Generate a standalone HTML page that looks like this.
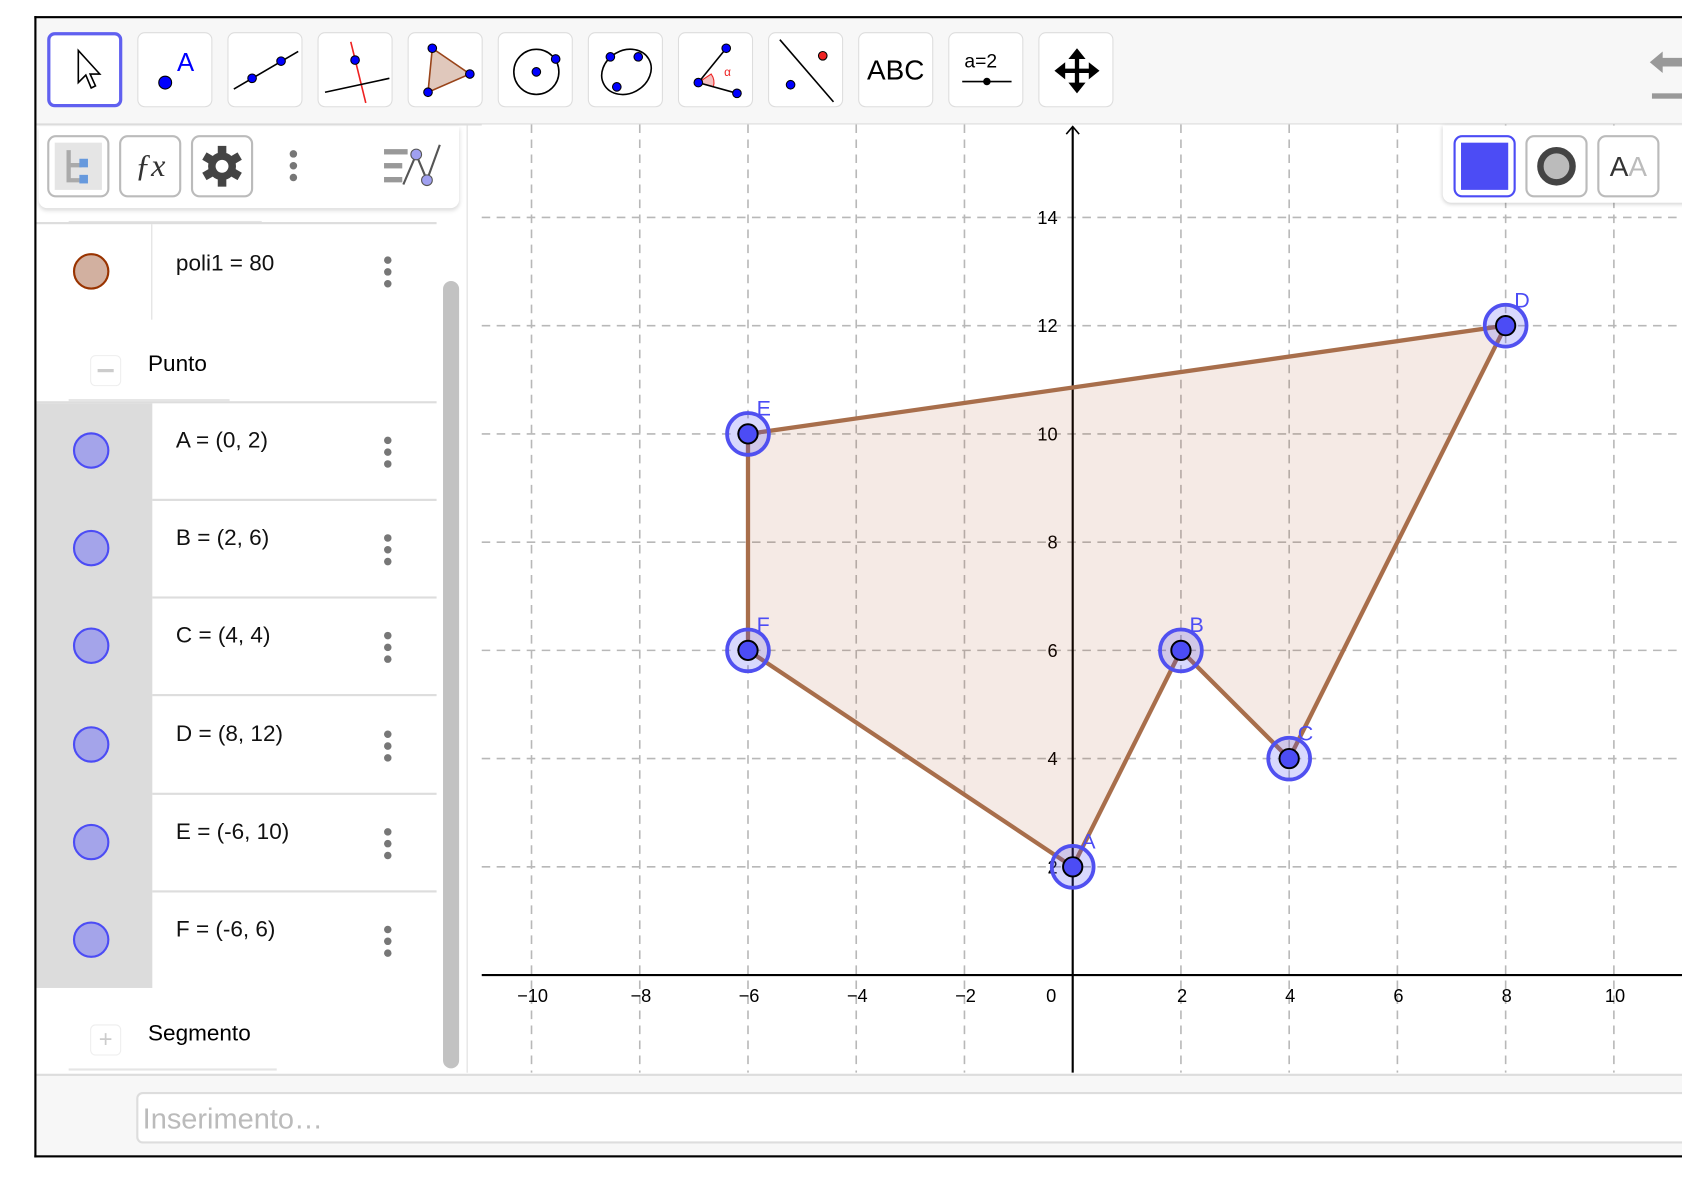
<!DOCTYPE html>
<html><head><meta charset="utf-8">
<style>
html,body{margin:0;padding:0;background:#fff;overflow:hidden;width:1682px;height:1180px;}
#root{position:absolute;left:0;top:0;width:1568px;height:1100px;transform:scale(1.0727);transform-origin:0 0;font-family:"Liberation Sans",sans-serif;}
.abs{position:absolute;}
.tb{position:absolute;top:30px;width:70px;height:70px;border:1px solid #ddd;border-radius:7px;background:#fff;box-sizing:border-box;}
.hb{position:absolute;top:126px;width:58px;height:58px;border:2px solid #bbb;border-radius:8px;background:#fff;box-sizing:border-box;}
.row-txt{position:absolute;left:164px;font-size:21px;color:#111;}
.dots{position:absolute;left:358px;width:7px;}
.dots i{display:block;width:7px;height:7px;border-radius:50%;background:#777;margin-bottom:4px;}
.sep{position:absolute;left:142px;width:265px;height:2px;background:#ddd;}
.circ{position:absolute;left:68px;width:34px;height:34px;border-radius:50%;box-sizing:border-box;}
</style></head><body>
<div id="root">
  <!-- toolbar -->
  <div class="abs" style="left:34px;top:17px;width:1534px;height:98px;background:#f7f7f7;border-bottom:2px solid #ddd;"></div>
  <div class="tb" style="left:44px;border:3px solid #6060f0;"><svg width="64" height="64"><path d="M26 14 L26 44 L33 37 L38 49 L42 47 L37 36 L46 36 Z" fill="#fff" stroke="#000" stroke-width="1.5"/></svg></div>
  <div class="tb" style="left:128px;"><svg width="70" height="70"><circle cx="25" cy="46" r="6" fill="#00f" stroke="#000"/><text x="36" y="35" font-size="24" fill="#00f" font-family="Liberation Sans">A</text></svg></div>
  <div class="tb" style="left:212px;"><svg width="70" height="70"><line x1="5" y1="52" x2="65" y2="17" stroke="#000" stroke-width="1.5"/><circle cx="22" cy="42" r="4" fill="#00f" stroke="#000"/><circle cx="49" cy="26" r="4" fill="#00f" stroke="#000"/></svg></div>
  <div class="tb" style="left:296px;"><svg width="70" height="70"><line x1="30" y1="8" x2="44" y2="65" stroke="#e22" stroke-width="1.5"/><line x1="6" y1="55" x2="66" y2="42" stroke="#000" stroke-width="1.5"/><circle cx="34" cy="25" r="4" fill="#00f" stroke="#000"/></svg></div>
  <div class="tb" style="left:380px;"><svg width="70" height="70"><polygon points="22,14 57,38 18,55" fill="#e0c8bc" stroke="#99441a" stroke-width="1.5"/><circle cx="22" cy="14" r="4" fill="#00f" stroke="#000"/><circle cx="57" cy="38" r="4" fill="#00f" stroke="#000"/><circle cx="18" cy="55" r="4" fill="#00f" stroke="#000"/></svg></div>
  <div class="tb" style="left:464px;"><svg width="70" height="70"><circle cx="35" cy="36" r="21" fill="none" stroke="#000" stroke-width="1.5"/><circle cx="35" cy="36" r="4" fill="#00f" stroke="#000"/><circle cx="53" cy="24" r="4" fill="#00f" stroke="#000"/></svg></div>
  <div class="tb" style="left:548px;"><svg width="70" height="70"><ellipse cx="35" cy="36" rx="24" ry="20" transform="rotate(-30 35 36)" fill="none" stroke="#000" stroke-width="1.5"/><circle cx="20" cy="22" r="4" fill="#00f" stroke="#000"/><circle cx="46" cy="22" r="4" fill="#00f" stroke="#000"/><circle cx="26" cy="50" r="4" fill="#00f" stroke="#000"/></svg></div>
  <div class="tb" style="left:632px;"><svg width="70" height="70"><path d="M18 46 L30 38 A14 14 0 0 1 32 50 Z" fill="#f3c0c0" stroke="#e22"/><line x1="18" y1="46" x2="44" y2="14" stroke="#000" stroke-width="1.5"/><line x1="18" y1="46" x2="54" y2="56" stroke="#000" stroke-width="1.5"/><circle cx="18" cy="46" r="4" fill="#00f" stroke="#000"/><circle cx="44" cy="14" r="4" fill="#00f" stroke="#000"/><circle cx="54" cy="56" r="4" fill="#00f" stroke="#000"/><text x="42" y="40" font-size="11" fill="#e22">α</text></svg></div>
  <div class="tb" style="left:716px;"><svg width="70" height="70"><line x1="10" y1="6" x2="60" y2="64" stroke="#000" stroke-width="1.5"/><circle cx="20" cy="48" r="4" fill="#00f" stroke="#000"/><circle cx="50" cy="21" r="4" fill="#e22" stroke="#000"/></svg></div>
  <div class="tb" style="left:800px;"><div style="text-align:center;line-height:68px;font-size:26px;">ABC</div></div>
  <div class="tb" style="left:884px;"><svg width="70" height="70"><text x="14" y="32" font-size="18" font-family="Liberation Sans">a=2</text><line x1="12" y1="45" x2="58" y2="45" stroke="#000" stroke-width="1.5"/><circle cx="35" cy="45" r="3.5" fill="#000"/></svg></div>
  <div class="tb" style="left:968px;"><svg width="70" height="70"><path d="M35 14 L43 24 L37 24 L37 33 L46 33 L46 27 L56 35 L46 43 L46 37 L37 37 L37 46 L43 46 L35 56 L27 46 L33 46 L33 37 L24 37 L24 43 L14 35 L24 27 L24 33 L33 33 L33 24 L27 24 Z" fill="#000"/></svg></div>
  <svg class="abs" style="left:1530px;top:40px;" width="38" height="55"><path d="M8 18 L20 8 L20 14 L38 14 L38 22 L20 22 L20 28 Z" fill="#999"/><rect x="10" y="47" width="28" height="5" fill="#999"/></svg>

  <!-- algebra panel -->
  <div class="abs" style="left:34px;top:117px;width:401px;height:883px;background:#fff;border-right:1px solid #ddd;"></div>
  <div class="abs" style="left:36px;top:118px;width:392px;height:76px;border-radius:0 0 8px 8px;box-shadow:0 2px 4px rgba(0,0,0,0.15);background:#fff;"></div>
  <div class="hb" style="left:44px;"><svg width="54" height="54"><rect x="5" y="5" width="44" height="44" fill="#e5e5e5"/><path d="M18 12 L18 40 L30 40 M18 26 L30 26" stroke="#aaa" stroke-width="4" fill="none"/><rect x="28" y="20" width="8" height="8" fill="#6699dd"/><rect x="28" y="35" width="8" height="8" fill="#6699dd"/></svg></div>
  <div class="hb" style="left:111px;"><div style="font-family:'Liberation Serif',serif;font-style:italic;font-size:30px;color:#333;text-align:center;line-height:54px;">ƒx</div></div>
  <div class="hb" style="left:178px;"><svg width="54" height="54"><g transform="translate(27 27)" fill="#444"><circle r="13"/><rect x="-4" y="-19" width="8" height="9"/><rect x="-4" y="-19" width="8" height="9" transform="rotate(60)"/><rect x="-4" y="-19" width="8" height="9" transform="rotate(120)"/><rect x="-4" y="-19" width="8" height="9" transform="rotate(180)"/><rect x="-4" y="-19" width="8" height="9" transform="rotate(240)"/><rect x="-4" y="-19" width="8" height="9" transform="rotate(300)"/><circle r="6" fill="#fff"/></g></svg></div>
  <div class="dots" style="left:270px;top:140px;"><i></i><i></i><i></i></div>
  <svg class="abs" style="left:354px;top:130px;" width="64" height="50"><rect x="4" y="9" width="22" height="5" fill="#999"/><rect x="4" y="22" width="17" height="5" fill="#999"/><rect x="4" y="35" width="17" height="5" fill="#999"/><path d="M22 42 L34 14 L44 38 L56 5" stroke="#555" stroke-width="2" fill="none"/><circle cx="34" cy="14" r="5" fill="#a0a0f0" stroke="#555"/><circle cx="44" cy="38" r="5" fill="#a0a0f0" stroke="#555"/></svg>

  <div class="abs" style="left:64px;top:206px;width:180px;height:2px;background:#e5e5e5;"></div>
  <div class="abs" style="left:34px;top:207px;width:373px;height:2px;background:#ddd;"></div>
  <div class="circ" style="top:236px;background:#d2b0a0;border:2px solid #993300;"></div>
  <div class="abs" style="left:141px;top:209px;width:1px;height:89px;background:#ddd;"></div>
  <div class="row-txt" style="top:234px;">poli1 = 80</div>
  <div class="dots" style="top:239px;"><i></i><i></i><i></i></div>

  <div class="abs" style="left:84px;top:331px;width:27px;height:27px;border:1px solid #eee;border-radius:5px;"><div style="margin:12px 6px;height:3px;background:#ccc;"></div></div>
  <div class="abs" style="left:138px;top:328px;font-size:21px;">Punto</div>
  <div class="abs" style="left:64px;top:372px;width:150px;height:2px;background:#e5e5e5;"></div>
  <div class="abs" style="left:34px;top:374px;width:373px;height:2px;background:#ddd;"></div>
  <div class="abs" style="left:34px;top:376px;width:108px;height:545px;background:#dcdcdc;"></div>

  <div id="rows"></div>

  <div class="abs" style="left:84px;top:955px;width:27px;height:27px;border:1px solid #eee;border-radius:5px;color:#ccc;font-size:22px;text-align:center;line-height:26px;">+</div>
  <div class="abs" style="left:138px;top:952px;font-size:21px;">Segmento</div>
  <div class="abs" style="left:64px;top:996px;width:194px;height:2px;background:#e5e5e5;"></div>
  <div class="abs" style="left:413px;top:262px;width:15px;height:734px;background:#c2c2c2;border-radius:8px;"></div>

  <!-- graphics -->
  <svg class="abs" id="g" style="left:0;top:0;" width="1568" height="1100"></svg>

  <!-- style bar -->
  <div class="abs" style="left:1345px;top:117px;width:240px;height:72px;background:#fff;border-radius:0 0 0 8px;box-shadow:0 1px 4px rgba(0,0,0,0.2);"></div>
  <div class="hb" style="left:1355px;border-color:#4c4cf5;"><div style="margin:5px;width:44px;height:44px;background:#4c4cf5;"></div></div>
  <div class="hb" style="left:1422px;"><svg width="54" height="54"><circle cx="27" cy="27" r="15" fill="#bbb" stroke="#444" stroke-width="6"/></svg></div>
  <div class="hb" style="left:1489px;"><div style="text-align:center;line-height:54px;font-size:26px;color:#333;">A<span style="color:#bbb">A</span></div></div>

  <!-- input bar -->
  <div class="abs" style="left:34px;top:1001px;width:1534px;height:75px;background:#f7f7f7;border-top:2px solid #ddd;"></div>
  <div class="abs" style="left:127px;top:1018px;width:1460px;height:48px;background:#fff;border:2px solid #ddd;border-radius:6px;box-sizing:border-box;font-size:27px;color:#bbb;padding:8px 4px;line-height:30px;">Inserimento…</div>

  <!-- outer frame (on top) -->
  <div class="abs" style="left:32px;top:15px;width:1560px;height:1064px;border:2px solid #000;border-right:none;box-sizing:border-box;pointer-events:none;"></div>
</div>
<script>
const rowNames=["A","B","C","D","E","F"];
const rowText=["A = (0, 2)","B = (2, 6)","C = (4, 4)","D = (8, 12)","E = (-6, 10)","F = (-6, 6)"];
const rowsEl=document.getElementById('rows');
rowNames.forEach((n,i)=>{
  const top=376+i*91.2;
  const c=document.createElement('div');c.className='circ';c.style.top=(top+27)+'px';c.style.background='#a4a4ea';c.style.border='2px solid #4c4cf5';
  
  
  rowsEl.appendChild(c);
  const t=document.createElement('div');t.className='row-txt';t.style.top=(top+23)+'px';t.textContent=rowText[i];
  
  
  rowsEl.appendChild(t);
  const d=document.createElement('div');d.className='dots';d.style.top=(top+31)+'px';d.innerHTML='<i></i><i></i><i></i>';
  
  
  rowsEl.appendChild(d);
  if(i<5){const s=document.createElement('div');s.className='sep';s.style.top=(top+89)+'px';
  
  
  rowsEl.appendChild(s);}
});
</script>
<script>
const ptNames=["A","B","C","D","E","F"];
const ptX=[0,2,4,8,-6,-6];
const ptY=[2,6,4,12,10,6];
const polyOrder=["A","B","C","D","E","F"];
const xTicks=[-10,-8,-6,-4,-2,0,2,4,6,8,10];
const yTicks=[2,4,6,8,10,12,14];
const X0=1000,Y0=909,U=50.45;
function sx(v){return X0+v*U;}
function sy(v){return Y0-v*U;}
const NS='http://www.w3.org/2000/svg';
const g=document.getElementById('g');
function mk(tag,attrs,name,parent){const e=document.createElementNS(NS,tag);for(const k in attrs)e.setAttribute(k,attrs[k]);
  
  
  (parent||g).appendChild(e);return e;}
const clip=mk('clipPath',{id:'cp'},'graphics-clip');
mk('rect',{x:449,y:116,width:1119,height:884},'clip-rect',clip);
const L=mk('g',{'clip-path':'url(#cp)'},'graphics-layer');
mk('rect',{x:449,y:116,width:1119,height:884,fill:'#fff'},'graphics-bg',L);
for(let v=-12;v<=12;v+=2){if(v===0)continue;
  mk('line',{x1:sx(v),x2:sx(v),y1:116,y2:1000,stroke:'#b8b8b8','stroke-width':1.5,'stroke-dasharray':'8,6'},'grid-v',L);}
for(let v=-2;v<=16;v+=2){if(v===0)continue;
  mk('line',{x1:449,x2:1568,y1:sy(v),y2:sy(v),stroke:'#b8b8b8','stroke-width':1.5,'stroke-dasharray':'8,6'},'grid-h',L);}
mk('line',{x1:449,x2:1568,y1:Y0,y2:Y0,stroke:'#000','stroke-width':2},'x-axis',L);
mk('line',{x1:X0,x2:X0,y1:118,y2:1000,stroke:'#000','stroke-width':2},'y-axis',L);
mk('path',{d:`M${X0-6} 125 L${X0} 118 L${X0+6} 125`,stroke:'#000','stroke-width':1.5,fill:'none'},'y-axis-arrow',L);
xTicks.forEach(v=>{const t=mk('text',{x:v===0?sx(v)-20:sx(v)+1,y:Y0+25,'font-size':17,'text-anchor':'middle','font-family':'Liberation Sans'},'x-tick-label',L);t.textContent=v<0?'\u2212'+(-v):v;});
yTicks.forEach(v=>{const t=mk('text',{x:X0-14,y:sy(v)+6,'font-size':17,'text-anchor':'end','font-family':'Liberation Sans'},'y-tick-label',L);t.textContent=v;});
const pts=polyOrder.map(n=>{const i=ptNames.indexOf(n);return sx(ptX[i])+','+sy(ptY[i]);}).join(' ');
mk('polygon',{points:pts,fill:'rgba(153,51,0,0.1)',stroke:'none'},'polygon-poli1',L);
polyOrder.forEach((n,k)=>{const i=ptNames.indexOf(n),j=ptNames.indexOf(polyOrder[(k+1)%polyOrder.length]);
  mk('line',{x1:sx(ptX[i]),y1:sy(ptY[i]),x2:sx(ptX[j]),y2:sy(ptY[j]),stroke:'#a86e4b','stroke-width':4},'segment-'+n.toLowerCase()+polyOrder[(k+1)%polyOrder.length].toLowerCase(),L);});
ptNames.forEach((n,i)=>{const cx=sx(ptX[i]),cy=sy(ptY[i]);
  mk('circle',{cx:cx,cy:cy,r:19.5,fill:'rgba(77,77,245,0.22)',stroke:'#5050f0','stroke-width':3.5},'point-'+n.toLowerCase()+'-highlight',L);
  mk('circle',{cx:cx,cy:cy,r:9,fill:'#4c4cf5',stroke:'#000','stroke-width':1.8},'point-'+n.toLowerCase(),L);
  const t=mk('text',{x:cx+8,y:cy-17,'font-size':20,fill:'#4c4cf5','font-family':'Liberation Sans'},'point-'+n.toLowerCase()+'-label',L);t.textContent=n;});
</script>
</body></html>
